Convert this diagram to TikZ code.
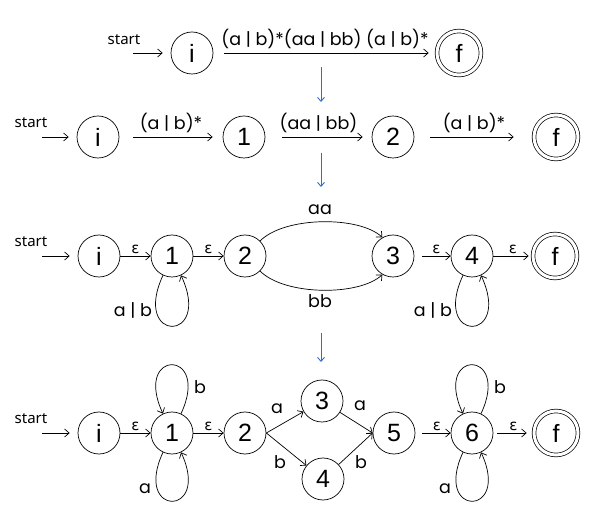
\documentclass[tikz,border=0pt]{standalone}
\usepackage{fontspec}
\setmainfont{Liberation Sans}
\newfontfamily\labfont{Poppins}
\newfontfamily\grfont{DejaVu Sans}
\newfontfamily\stfont{Noto Sans}
\usetikzlibrary{arrows.meta}
\definecolor{flowblue}{RGB}{45,110,205}
\begin{document}
\begin{tikzpicture}[x=1pt,y=-1pt,
  state/.style={circle,draw,line width=0.7pt,minimum size=42pt,inner sep=0pt,font=\fontsize{25}{25}\selectfont},
  accept/.style={state,double,double distance=3pt,minimum size=44pt},
  e/.style={draw,line width=0.7pt,-{Straight Barb[length=4.5pt,width=8pt]}},
  flow/.style={draw=flowblue,line width=0.9pt,-{Straight Barb[length=4pt,width=7pt]}},
  lab/.style={font=\labfont\fontsize{17.5}{17.5}\selectfont,inner sep=1pt},
  eps/.style={font=\grfont\fontsize{15}{15}\selectfont,inner sep=1pt},
  stlab/.style={font=\stfont\fontsize{15}{15}\selectfont,inner sep=0pt},
]
\useasboundingbox (0,0) rectangle (600,526);

% ---------- Row 1 ----------
\node[stlab] (s1) at (124,40) {start};
\coordinate (s1a) at (133,53);
\node[state] (a0) at (192,53) {i};
\node[accept] (af) at (459,53) {f};
\draw[e,shorten >=8pt] (s1a) -- (a0);
\draw[e,shorten <=11pt,shorten >=8pt] (a0) -- node[lab,above=3pt] {(a | b)*(aa | bb) (a | b)*} (af);

% blue arrow 1
\coordinate (b1s) at (321,67);
\coordinate (b1e) at (321,102);
\draw[flow] (b1s) -- (b1e);

% ---------- Row 2 ----------
\node[stlab] (s2) at (31,123) {start};
\coordinate (s2a) at (42,137);
\node[state] (b0) at (98,137) {i};
\node[state] (b1) at (244,137) {1};
\node[state] (b2) at (393,137) {2};
\node[accept] (bf) at (556,137) {f};
\draw[e,shorten >=8pt] (s2a) -- (b0);
\draw[e,shorten <=14pt,shorten >=10pt] (b0) -- node[lab,above=3pt] {(a | b)*} (b1);
\draw[e,shorten <=17pt,shorten >=9pt] (b1) -- node[lab,above=3pt] {(aa | bb)} (b2);
\draw[e,shorten <=16pt,shorten >=20pt] (b2) -- node[lab,above=3pt] {(a | b)*} (bf);

% blue arrow 2
\coordinate (b2s) at (321,153);
\coordinate (b2e) at (321,187);
\draw[flow] (b2s) -- (b2e);

% ---------- Row 3 ----------
\node[stlab] (s3) at (31,242) {start};
\coordinate (s3a) at (42,256);
\node[state] (c0) at (99,256) {i};
\node[state] (c1) at (172,256) {1};
\node[state] (c2) at (245,256) {2};
\node[state] (c3) at (393,256) {3};
\node[state] (c4) at (472,256) {4};
\node[accept] (cf) at (555,256) {f};
\draw[e,shorten >=8pt] (s3a) -- (c0);
\draw[e] (c0) -- node[eps,above=1pt] {ε} (c1);
\draw[e] (c1) -- node[eps,above=1pt] {ε} (c2);
\draw[e,shorten <=8pt] (c3) -- node[eps,above=1pt,xshift=4pt] {ε} (c4);
\draw[e,shorten >=4pt] (c4) -- node[eps,above=1pt] {ε} (cf);
\draw[e] (c2.45) .. controls (285,216) and (360,216) .. (c3.120);
\draw[e] (c2.-45) .. controls (285,296) and (360,296) .. (c3.-120);
\node[lab] (laa) at (320,210) {aa};
\node[lab] (lbb) at (320,301) {bb};
\draw[e] (c1.-115) .. controls +(-115:75pt) and +(-65:75pt) .. (c1.-65);
\node[lab] (l1ab) at (133,310) {a | b};
\draw[e] (c4.-115) .. controls +(-115:75pt) and +(-65:75pt) .. (c4.-65);
\node[lab] (l4ab) at (433,310) {a | b};

% blue arrow 3
\coordinate (b3s) at (321,333);
\coordinate (b3e) at (321,362);
\draw[flow] (b3s) -- (b3e);

% ---------- Row 4 ----------
\node[stlab] (s4) at (31,419) {start};
\coordinate (s4a) at (42,433);
\node[state] (d0) at (99,433) {i};
\node[state] (d1) at (172,433) {1};
\node[state] (d2) at (245,433) {2};
\node[state] (d3) at (322,401) {3};
\node[state] (d4) at (323,479) {4};
\node[state] (d5) at (394,433) {5};
\node[state] (d6) at (472,433) {6};
\node[accept] (df) at (556,433) {f};
\draw[e,shorten >=8pt] (s4a) -- (d0);
\draw[e] (d0) -- node[eps,above=1pt] {ε} (d1);
\draw[e] (d1) -- node[eps,above=1pt] {ε} (d2);
\draw[e] (d2.east) -- (d3);
\draw[e] (d2.east) -- (d4);
\draw[e] (d3) -- (d5.west);
\draw[e] (d4) -- (d5.west);
\node[lab] (la23) at (277,409) {a};
\node[lab] (lb24) at (280,462) {b};
\node[lab] (la35) at (360,406) {a};
\node[lab] (lb45) at (361,462) {b};
\draw[e,shorten <=7pt] (d5) -- node[eps,above=1pt,xshift=4pt] {ε} (d6);
\draw[e,shorten <=4pt,shorten >=7pt] (d6) -- node[eps,above=1pt] {ε} (df);
\draw[e] (d1.65) .. controls +(65:72pt) and +(115:72pt) .. (d1.115);
\node[lab] (lb1) at (200,387) {b};
\draw[e] (d1.-115) .. controls +(-115:72pt) and +(-65:72pt) .. (d1.-65);
\node[lab] (la1) at (145,489) {a};
\draw[e] (d6.65) .. controls +(65:72pt) and +(115:72pt) .. (d6.115);
\node[lab] (lb6) at (500,387) {b};
\draw[e] (d6.-115) .. controls +(-115:72pt) and +(-65:72pt) .. (d6.-65);
\node[lab] (la6) at (445,489) {a};
\end{tikzpicture}
\end{document}
